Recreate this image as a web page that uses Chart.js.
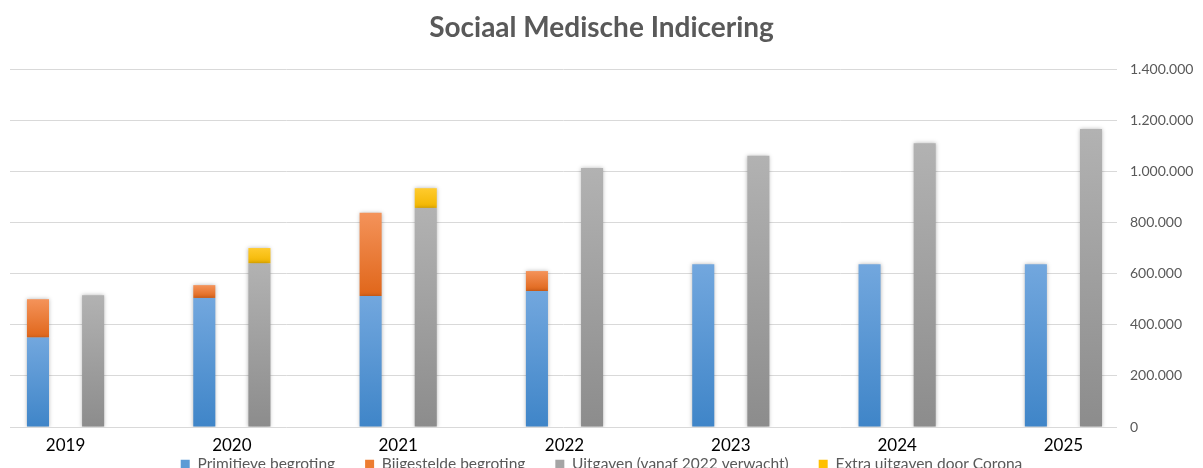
<!DOCTYPE html>
<html>
<head>
<meta charset="utf-8">
<script src="https://cdn.jsdelivr.net/npm/chart.js@4/dist/chart.umd.min.js"></script>
<style>
  html, body { margin:0; padding:0; background:#fff; overflow:hidden; }
  #wrap { position:relative; width:1203px; height:519px; }
</style>
</head>
<body>
<div id="wrap"><canvas id="c"></canvas></div>
<script>
const years = ['2019','2020','2021','2022','2023','2024','2025'];
const primitieve = [350000, 505000, 513000, 532000, 637000, 637000, 637000];
const bijgesteld = [150000, 50000, 325000, 78000, 0, 0, 0];
const uitgaven = [515000, 640000, 857000, 1013000, 1061000, 1110000, 1165000];
const extraCorona = [0, 60000, 77000, 0, 0, 0, 0];
const yTicks = [0, 200000, 400000, 600000, 800000, 1000000, 1200000, 1400000];

function fmt(v) {
  return String(Math.round(v)).replace(/\B(?=(\d{3})+(?!\d))/g, '.');
}

function grad(top, bottom, baseArr, valArr) {
  return function(ctx) {
    const chart = ctx.chart;
    const y = chart.scales && chart.scales.y;
    if (!y || ctx.type !== 'data') return bottom;
    const i = ctx.dataIndex;
    const base = baseArr ? baseArr[i] : 0;
    const y0 = y.getPixelForValue(base);
    const y1 = y.getPixelForValue(base + valArr[i]);
    if (!isFinite(y0) || !isFinite(y1) || y0 === y1) return bottom;
    const g = chart.ctx.createLinearGradient(0, y1, 0, y0);
    g.addColorStop(0, top);
    g.addColorStop(1, bottom);
    return g;
  };
}

const pts = arr => arr.map((v, i) => ({x: i, y: v}));

const shadowPlugin = {
  id: 'barShadow',
  beforeDatasetsDraw(chart) {
    const c = chart.ctx;
    c.save();
    c.shadowColor = 'rgba(0,0,0,0.28)';
    c.shadowBlur = 4;
    c.shadowOffsetX = 0;
    c.shadowOffsetY = 0;
  },
  afterDatasetsDraw(chart) {
    chart.ctx.restore();
  }
};

// move the legend up so it sits just under the year labels
const legendShift = {
  id: 'legendShift',
  afterLayout(chart) {
    const lg = chart.legend;
    if (lg) { lg.top -= 37; lg.bottom -= 37; }
  }
};

new Chart(document.getElementById('c'), {
  type: 'bar',
  plugins: [shadowPlugin, legendShift],
  data: {
    datasets: [
      { label: 'Primitieve begroting', data: pts(primitieve), stack: 'begroting', xAxisID: 'x', yAxisID: 'y',
        backgroundColor: grad('#72a7de', '#3f85c8', null, primitieve), legendColor: '#5b9bd5' },
      { label: 'Bijgestelde begroting', data: pts(bijgesteld), stack: 'begroting', xAxisID: 'x', yAxisID: 'y',
        backgroundColor: grad('#f4935a', '#e0661a', primitieve, bijgesteld), legendColor: '#ed7d31' },
      { label: 'Uitgaven (vanaf 2022 verwacht)', data: pts(uitgaven), stack: 'uitgaven', xAxisID: 'x', yAxisID: 'y',
        backgroundColor: grad('#b2b2b2', '#8c8c8c', null, uitgaven), legendColor: '#a5a5a5' },
      { label: 'Extra uitgaven door Corona', data: pts(extraCorona), stack: 'uitgaven', xAxisID: 'x', yAxisID: 'y',
        backgroundColor: grad('#ffcb2e', '#f2b600', uitgaven, extraCorona), legendColor: '#ffc000' }
    ]
  },
  options: {
    responsive: true,
    maintainAspectRatio: false,
    animation: false,
    categoryPercentage: 0.663,
    barPercentage: 0.4,
    layout: { padding: 0 },
    plugins: {
      title: {
        display: true,
        text: 'Sociaal Medische Indicering',
        color: '#595959',
        font: { family: 'Lato', size: 28, weight: 'bold' },
        padding: { top: 11.2, bottom: 24.2 }
      },
      legend: {
        position: 'bottom',
        labels: {
          color: '#595959',
          font: { family: 'Lato', size: 15.5 },
          boxWidth: 9,
          boxHeight: 9,
          padding: 30,
          generateLabels(chart) {
            return chart.data.datasets.map((ds, i) => ({
              text: ds.label, fillStyle: ds.legendColor, strokeStyle: ds.legendColor,
              lineWidth: 0, hidden: false, datasetIndex: i, fontColor: '#595959'
            }));
          }
        }
      },
      tooltip: { enabled: false }
    },
    scales: {
      x: {
        type: 'linear',
        offset: false,
        min: -0.334,
        max: 6.322,
        grid: { display: false, drawTicks: false, offset: false },
        border: { display: false },
        afterBuildTicks(axis) {
          axis.ticks = years.map((_, i) => ({ value: i }));
        },
        ticks: {
          color: '#000000',
          font: { family: 'Lato', size: 17 },
          padding: 8,
          autoSkip: false,
          maxRotation: 0,
          callback: v => years[v] ?? ''
        }
      },
      yl: {
        type: 'linear',
        position: 'left',
        display: true,
        min: 0,
        max: 1400000,
        grid: { display: false, drawTicks: false },
        border: { display: false },
        ticks: { display: false },
        afterFit(axis) { axis.width = 10; }
      },
      y: {
        type: 'linear',
        position: 'right',
        stacked: true,
        min: 0,
        max: 1400000,
        afterBuildTicks(axis) {
          axis.ticks = yTicks.map(v => ({ value: v }));
        },
        afterFit(axis) { axis.width = 86; },
        grid: { color: '#d9d9d9', lineWidth: 1, drawTicks: false },
        border: { display: false },
        ticks: {
          color: '#595959',
          font: { family: 'Lato', size: 14 },
          padding: 13,
          callback: v => fmt(v)
        }
      }
    }
  }
});
</script>
</body>
</html>
